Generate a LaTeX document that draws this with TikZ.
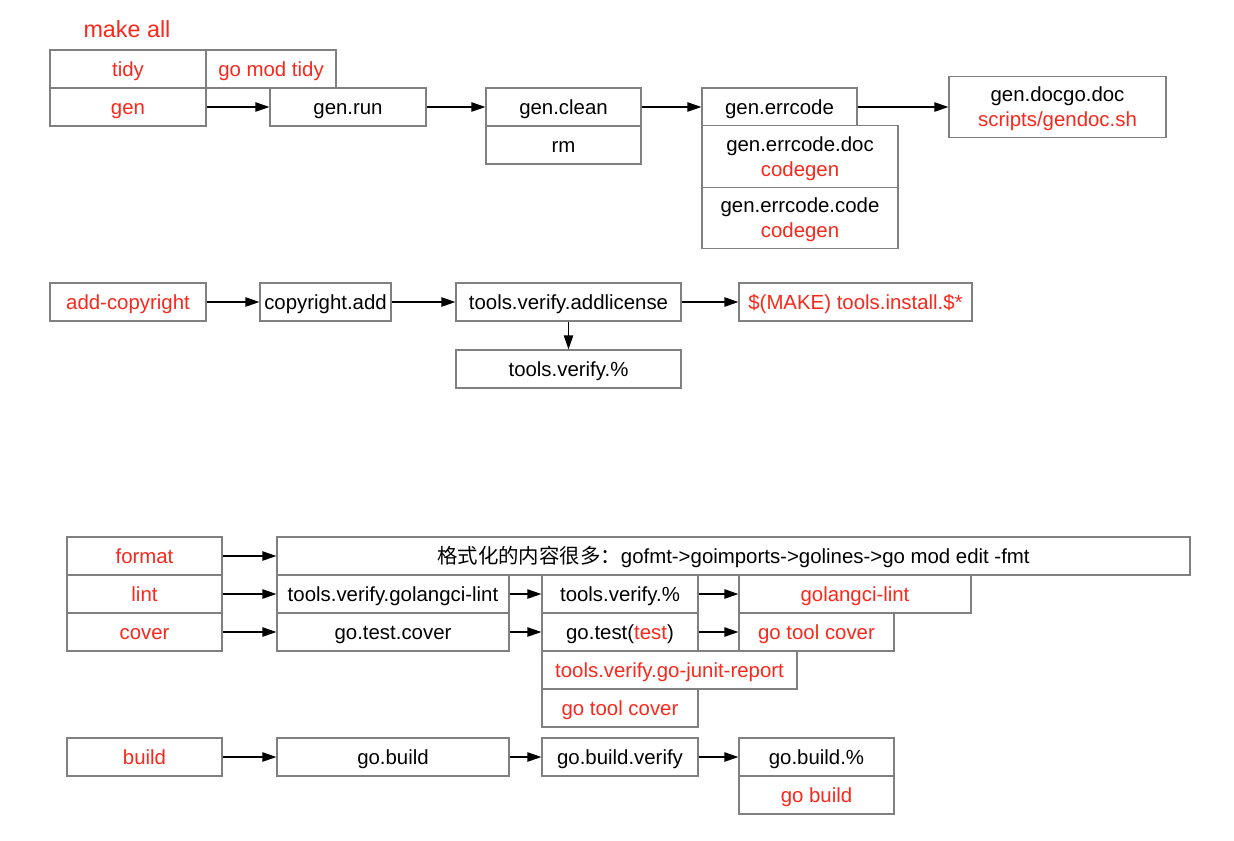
\documentclass[tikz,border=0pt]{standalone}
\usepackage{fontspec}
\setmainfont{Liberation Sans}
\newfontfamily\cjk{Noto Sans CJK SC}
\usepackage{tikz}
\usetikzlibrary{positioning,arrows.meta,calc}
\definecolor{cmdred}{RGB}{250,40,28}
\definecolor{boxgray}{RGB}{128,128,128}
\newcommand{\upstrut}{\rule{0pt}{14pt}}

\begin{document}
\begin{tikzpicture}[
  x=0.75pt,
  y=-0.75pt,
  box/.style={
    draw=boxgray,
    line width=.9pt,
    fill=white,
    inner sep=0pt,
    minimum width=#1*0.75pt,
    minimum height=28.5pt,
    text height=13pt,
    text depth=2.2pt,
    align=center,
    font=\fontsize{15.3}{18.5}\selectfont
  },
  tall/.style={minimum height=46pt,text height=,text depth=},
  red/.style={text=cmdred},
  edge/.style={draw=black,line width=1pt,-{Triangle[length=10.5pt,width=7pt]}}
]
  \useasboundingbox (0,0) rectangle (1234,840);

  \node[text=cmdred,font=\fontsize{17.5}{20}\selectfont] (title) at (127,29) {make all};

  \node[box=156,red] (tidy) at (128,69) {tidy};
  \node[box=130,red] (modtidy) at (271,69) {go mod tidy};
  \node[box=156,red] (gen) at (128,107) {gen};
  \node[box=156] (genrun) at (348,107) {gen.run};
  \node[box=155] (genclean) at (563.5,107) {gen.clean};
  \node[box=155] (rm) at (563.5,145) {rm};
  \node[box=155] (errcode) at (779.5,107) {gen.errcode};
  \node[box=196,tall] (errdoc) at (800,156.5) {\upstrut gen.errcode.doc\\\textcolor{cmdred}{codegen}};
  \node[box=196,tall] (errcodegen) at (800,218) {\upstrut gen.errcode.code\\\textcolor{cmdred}{codegen}};
  \node[box=217,tall] (docgo) at (1057.5,107) {\upstrut gen.docgo.doc\\\textcolor{cmdred}{scripts/gendoc.sh}};

  \draw[edge] (gen)--(genrun);
  \draw[edge] (genrun)--(genclean);
  \draw[edge] (genclean)--(errcode);
  \draw[edge] (errcode)--(docgo);

  \node[box=156,red] (addcopy) at (128,302) {add-copyright};
  \node[box=131] (copyadd) at (325.5,302) {copyright.add};
  \node[box=225] (addlicense) at (568.5,302) {tools.verify.addlicense};
  \node[box=233,red] (install) at (855.5,302) {\$(MAKE) tools.install.\$*};
  \node[box=225] (verifyA) at (568.5,369) {tools.verify.\%};

  \draw[edge] (addcopy)--(copyadd);
  \draw[edge] (copyadd)--(addlicense);
  \draw[edge] (addlicense)--(install);
  \draw[edge] (addlicense)--(verifyA);

  \node[box=155,red] (format) at (144.5,556) {format};
  \node[box=155,red] (lint) at (144.5,594) {lint};
  \node[box=155,red] (cover) at (144.5,632) {cover};
  \node[box=913] (fmt) at (733.5,556) {{\cjk 格式化的内容很多：}gofmt->goimports->golines->go mod edit -fmt};
  \node[box=232] (golint) at (393,594) {tools.verify.golangci-lint};
  \node[box=232] (testcover) at (393,632) {go.test.cover};
  \node[box=156] (verifyB) at (620,594) {tools.verify.\%};
  \node[box=156] (gotest) at (620,632) {go.test(\textcolor{cmdred}{test})};
  \node[box=255,red] (junit) at (669.5,670) {tools.verify.go-junit-report};
  \node[box=156,red] (toolcoverA) at (620,708) {go tool cover};
  \node[box=232,red] (golangci) at (855,594) {golangci-lint};
  \node[box=155,red] (toolcoverB) at (816.5,632) {go tool cover};

  \draw[edge] (format)--(fmt.west|-format);
  \draw[edge] (lint)--(golint);
  \draw[edge] (cover)--(testcover);
  \draw[edge] (golint)--(verifyB);
  \draw[edge] (testcover)--(gotest);
  \draw[edge] (verifyB)--(golangci);
  \draw[edge] (gotest)--(toolcoverB);

  \node[box=155,red] (build) at (144.5,757) {build};
  \node[box=232] (gobuild) at (393,757) {go.build};
  \node[box=156] (buildverify) at (620,757) {go.build.verify};
  \node[box=155] (buildpct) at (816.5,757) {go.build.\%};
  \node[box=155,red] (gobuildcmd) at (816.5,795) {go build};

  \draw[edge] (build)--(gobuild);
  \draw[edge] (gobuild)--(buildverify);
  \draw[edge] (buildverify)--(buildpct);
\end{tikzpicture}
\end{document}
